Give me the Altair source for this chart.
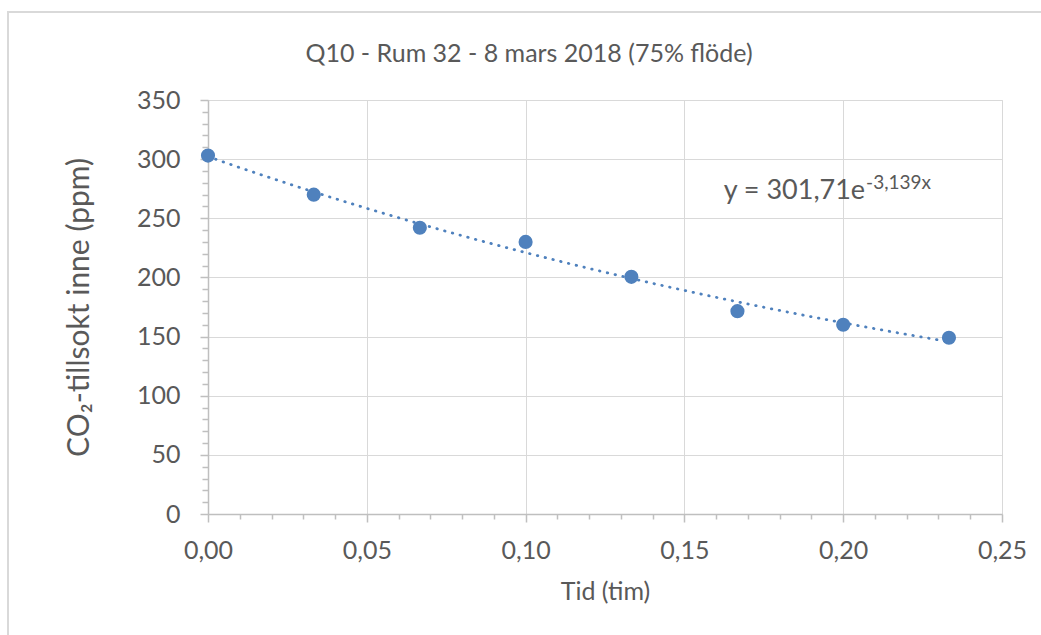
import altair as alt
import pandas as pd

# Data
tid = [0.0, 0.0333, 0.0667, 0.1, 0.1333, 0.1667, 0.2, 0.2333]
co2 = [303, 270, 242, 230, 200.5, 171.5, 160, 149]

x_ticks = [0.0, 0.01, 0.02, 0.03, 0.04, 0.05, 0.06, 0.07, 0.08, 0.09, 0.10,
           0.11, 0.12, 0.13, 0.14, 0.15, 0.16, 0.17, 0.18, 0.19, 0.20,
           0.21, 0.22, 0.23, 0.24, 0.25]
y_ticks = [0, 10, 20, 30, 40, 50, 60, 70, 80, 90, 100, 110, 120, 130, 140, 150,
           160, 170, 180, 190, 200, 210, 220, 230, 240, 250, 260, 270, 280, 290,
           300, 310, 320, 330, 340, 350]

title_text = "Q10 - Rum 32 - 8 mars 2018 (75% flöde)"
eq_main = "y = 301,71e"
eq_sup = "-3,139x"
eq_x = [0.2069]
eq_y = [266]

FONT = "Lato"
TXT = "#595959"
GRID = "#d9d9d9"
AX = "#bfbfbf"
BLUE = "#4F81BD"

df = pd.DataFrame({"tid": tid, "co2": co2})

xmaj = "abs(datum.value*20 - round(datum.value*20)) < 0.000001"
ymaj = "datum.value % 50 == 0"

x_axis = alt.Axis(
    values=x_ticks,
    tickCount=len(x_ticks),
    title="Tid (tim)",
    labelExpr=f"({xmaj}) ? replace(format(datum.value, '.2f'), '.', ',') : ''",
    tickSize={"condition": {"test": xmaj, "value": 8}, "value": 5},
    gridOpacity={"condition": {"test": xmaj, "value": 1}, "value": 0},
    labelFontSize=25, labelColor=TXT, labelFont=FONT, labelPadding=16,
    labelFlush=False, labelOverlap=False,
    titleFontSize=25, titleColor=TXT, titleFont=FONT, titleFontWeight="normal",
    titlePadding=16,
    domainColor=AX, tickColor=AX, gridColor=GRID, domainWidth=1.5, tickWidth=1.5,
)
y_axis = alt.Axis(
    values=y_ticks,
    tickCount=len(y_ticks),
    title="CO₂-tillsokt inne (ppm)",
    labelExpr=f"({ymaj}) ? datum.label : ''",
    tickSize={"condition": {"test": ymaj, "value": 8}, "value": 6},
    gridOpacity={"condition": {"test": ymaj, "value": 1}, "value": 0},
    labelFontSize=25, labelColor=TXT, labelFont=FONT, labelPadding=20,
    labelFlush=False, labelOverlap=False,
    titleFontSize=30, titleColor=TXT, titleFont=FONT, titleFontWeight="normal",
    titlePadding=42,
    domainColor=AX, tickColor=AX, gridColor=GRID, domainWidth=1.5, tickWidth=1.5,
)

xs = alt.Scale(domain=[0, 0.25], nice=False)
ys = alt.Scale(domain=[0, 350], nice=False)

base = alt.Chart(df)

trend = base.transform_regression("tid", "co2", method="exp").mark_line(
    color=BLUE, strokeWidth=2.8, strokeDash=[0.5, 7.5], strokeCap="round"
).encode(
    x=alt.X("tid:Q", scale=xs, axis=x_axis),
    y=alt.Y("co2:Q", scale=ys, axis=y_axis),
)

points = base.mark_point(filled=True, size=200, opacity=1, color=BLUE).encode(
    x=alt.X("tid:Q", scale=xs),
    y=alt.Y("co2:Q", scale=ys),
)

eq_df = pd.DataFrame({"x": eq_x, "y": eq_y, "main": [eq_main], "sup": [eq_sup]})
eq1 = alt.Chart(eq_df).mark_text(
    align="right", baseline="alphabetic", font=FONT, fontSize=27, color=TXT
).encode(x=alt.X("x:Q", scale=xs), y=alt.Y("y:Q", scale=ys), text="main:N")
eq2 = alt.Chart(eq_df).mark_text(
    align="left", baseline="alphabetic", font=FONT, fontSize=19, color=TXT, dx=1, dy=-10
).encode(x=alt.X("x:Q", scale=xs), y=alt.Y("y:Q", scale=ys), text="sup:N")

one = pd.DataFrame({"t": [title_text]})
title = alt.Chart(one).mark_text(
    align="center", baseline="alphabetic", font=FONT, fontSize=25, color=TXT
).encode(x=alt.value(321), y=alt.value(-38), text="t:N")

border = alt.Chart(pd.DataFrame({"a": [0]})).mark_rect(
    fill=None, stroke="#d9d9d9", strokeWidth=2
).encode(x=alt.value(-200), x2=alt.value(850), y=alt.value(-88), y2=alt.value(540))

chart = alt.layer(border, trend, points, eq1, eq2, title).properties(
    width=794,
    height=414,
    autosize=alt.AutoSizeParams(type="none"),
    padding={"left": 208, "top": 100, "right": 39, "bottom": 121},
).configure_view(stroke=None).configure(background="white")

chart.save("out.html", embed_options={"renderer": "svg", "actions": False})
